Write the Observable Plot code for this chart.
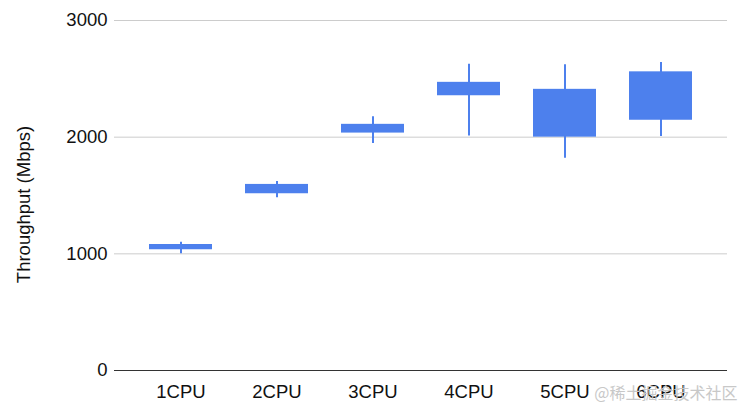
<!DOCTYPE html>
<html>
<head>
<meta charset="utf-8">
<script src="https://cdn.jsdelivr.net/npm/d3@7"></script>
<script src="https://cdn.jsdelivr.net/npm/@observablehq/plot@0.6"></script>
<style>
  html, body { margin: 0; padding: 0; background: #fff; }
</style>
</head>
<body>
<div id="chart"></div>
<script>
const categories = ["1CPU", "2CPU", "3CPU", "4CPU", "5CPU", "6CPU"];
const lows   = [1000, 1480, 1945, 2010, 1820, 2005];
const opens  = [1035, 1515, 2035, 2355, 2000, 2145];
const closes = [1080, 1595, 2110, 2470, 2410, 2560];
const highs  = [1100, 1620, 2175, 2625, 2620, 2640];
const yTicks = [0, 1000, 2000, 3000];
const yLabel = "Throughput (Mbps)";
const watermark = "@稀土掘金技术社区";

const data = categories.map((c, i) => ({cat: c, low: lows[i], open: opens[i], close: closes[i], high: highs[i]}));
const blue = "#4d80ed";
const fs = 18.5;

const chart = Plot.plot({
  width: 750,
  height: 409,
  marginLeft: 114,
  marginRight: 23,
  marginTop: 20,
  marginBottom: 39,
  style: {fontFamily: "'Liberation Sans', Arial, sans-serif", fontSize: fs + "px", color: "#111", background: "#fff"},
  x: {domain: categories, insetLeft: 16, insetRight: 16, paddingInner: 0.34, paddingOuter: 0.17},
  y: {domain: [0, 3000]},
  marks: [
    Plot.ruleY(yTicks.filter(d => d !== 0), {stroke: "#cccccc", strokeWidth: 1}),
    Plot.ruleY([0], {stroke: "#333333", strokeWidth: 1}),
    Plot.ruleX(data, {x: "cat", y1: "low", y2: "high", stroke: blue, strokeWidth: 2}),
    Plot.barY(data, {x: "cat", y1: "open", y2: "close", fill: blue}),
    Plot.axisY({ticks: yTicks, tickSize: 0, tickPadding: 7, label: null, fontSize: fs, fill: "#111", tickFormat: d => String(d)}),
    Plot.axisX({tickSize: 0, tickPadding: 14, label: null, fontSize: fs, fill: "#111"}),
    Plot.text([yLabel], {frameAnchor: "left", rotate: -90, dx: -90, dy: 9, fontSize: fs, fill: "#111", textAnchor: "middle", lineAnchor: "middle"}),
    Plot.text([watermark], {frameAnchor: "bottom-right", dx: 10, dy: 23, fontSize: 16, fill: "#c8c8c8", textAnchor: "end", lineAnchor: "middle", fontFamily: "'Noto Sans CJK SC', sans-serif"})
  ]
});
document.getElementById("chart").appendChild(chart);
</script>
</body>
</html>
